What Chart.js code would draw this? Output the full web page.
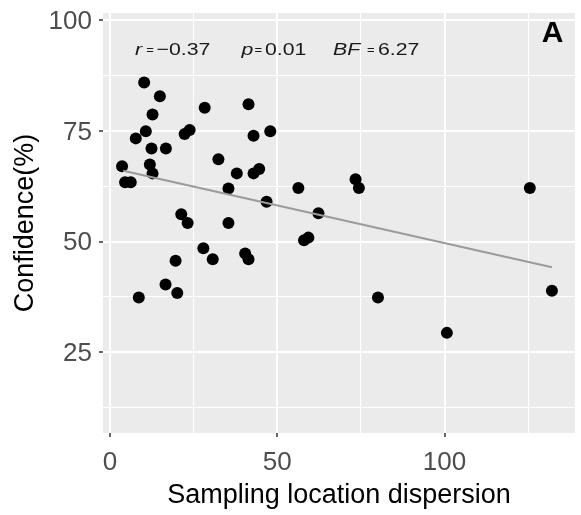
<!DOCTYPE html>
<html>
<head>
<meta charset="utf-8">
<script src="https://cdn.jsdelivr.net/npm/chart.js@4/dist/chart.umd.min.js"></script>
<style>
  html, body { margin: 0; padding: 0; background: #ffffff; }
  #wrap { width: 581px; height: 515px; position: relative; }
</style>
</head>
<body>
<div id="wrap"><canvas id="c" width="581" height="515"></canvas></div>
<script>
// ---- data ----
const dispersion = [10.2, 14.9, 12.7, 28.3, 41.4, 10.7, 7.7, 12.4, 16.7, 22.3, 23.8, 42.9, 47.9,
  3.6, 11.9, 12.7, 4.5, 6.2, 32.4, 37.9, 42.9, 44.6, 35.4, 56.3, 46.8, 21.3, 23.2, 35.4,
  27.9, 30.7, 40.4, 41.4, 19.6, 16.6, 20.1, 8.6, 73.4, 74.4, 62.3, 58.0, 59.3, 80.1,
  100.7, 125.5, 132.1];
const confidence = [85.9, 82.8, 78.7, 80.2, 81.0, 74.9, 73.3, 71.0, 71.0, 74.3, 75.2, 73.9, 74.9,
  67.0, 67.4, 65.4, 63.4, 63.4, 68.6, 65.4, 65.4, 66.4, 62.0, 62.1, 59.0, 56.2, 54.2, 54.2,
  48.5, 46.0, 47.3, 46.0, 45.7, 40.3, 38.4, 37.4, 64.1, 62.1, 56.4, 50.3, 50.9, 37.4,
  29.4, 62.1, 38.9];
const fitX = [3.96, 132.1];
const fitY = [66.0, 44.2];
const xTicks = [0, 25, 50, 75, 100, 125];
const xMajor = [0, 50, 100];
const yTicks = [12.5, 25, 37.5, 50, 62.5, 75, 87.5, 100];
const yMajor = [25, 50, 75, 100];
const statParts = [
  { text: 'r', kind: 'italic' },
  { text: '=', kind: 'eq' },
  { text: '\u22120.37', kind: 'plain' },
  { text: 'p', kind: 'italic' },
  { text: '=', kind: 'eq' },
  { text: '0.01', kind: 'plain' },
  { text: 'BF', kind: 'italic' },
  { text: '=', kind: 'eq' },
  { text: '6.27', kind: 'plain' }
];
const panelLabel = 'A';
const xTitle = 'Sampling location dispersion';
const yTitle = 'Confidence(%)';

// ---- layout (not data) ----
const statX = [135, 150, 156.5, 241.5, 258.3, 265, 333, 370.8, 378];
const FONT = '"Liberation Sans", Arial, Helvetica, sans-serif';

const points = dispersion.map((x, i) => ({ x: x, y: confidence[i] }));
const fitLine = fitX.map((x, i) => ({ x: x, y: fitY[i] }));

const panelPlugin = {
  id: 'panel',
  beforeDraw(chart) {
    const { ctx, chartArea: a } = chart;
    ctx.save();
    ctx.fillStyle = '#EBEBEB';
    ctx.fillRect(a.left, a.top, a.right - a.left, a.bottom - a.top);
    ctx.restore();
  },
  afterDraw(chart) {
    const ctx = chart.ctx;
    ctx.save();
    ctx.fillStyle = '#1a1a1a';
    ctx.textBaseline = 'alphabetic';
    const sx = 1.25;
    statParts.forEach((p, i) => {
      ctx.save();
      ctx.translate(statX[i], 55);
      if (p.kind === 'eq') {
        ctx.textAlign = 'center';
        ctx.font = '13px ' + FONT;
        ctx.fillText(p.text, 0, -1);
      } else {
        ctx.textAlign = 'left';
        ctx.scale(sx, 1);
        ctx.font = (p.kind === 'italic' ? 'italic ' : '') + '17px ' + FONT;
        ctx.fillText(p.text, 0, 0);
      }
      ctx.restore();
    });
    ctx.font = 'bold 30px ' + FONT;
    ctx.textAlign = 'center';
    ctx.fillStyle = '#000';
    ctx.fillText(panelLabel, 552.5, 41.5);
    ctx.restore();
  }
};

new Chart(document.getElementById('c'), {
  type: 'scatter',
  data: {
    datasets: [
      {
        type: 'line',
        data: fitLine,
        borderColor: '#9b9b9b',
        borderWidth: 2,
        pointRadius: 0,
        fill: false,
        order: 0
      },
      {
        type: 'scatter',
        data: points,
        backgroundColor: '#000000',
        borderWidth: 0,
        pointRadius: 6,
        order: 1
      }
    ]
  },
  options: {
    responsive: false,
    devicePixelRatio: 1,
    animation: false,
    layout: { padding: { left: 0, top: 13, right: 4, bottom: 0 } },
    plugins: { legend: { display: false }, tooltip: { enabled: false } },
    scales: {
      x: {
        type: 'linear',
        min: -2.1,
        max: 139,
        afterBuildTicks: (s) => { s.ticks = xTicks.map(v => ({ value: v })); },
        afterFit: (s) => { s.height = 82; s.paddingLeft = 0; s.paddingRight = 0; },
        border: { display: false },
        grid: {
          color: '#ffffff',
          lineWidth: (c) => xMajor.includes(c.tick && c.tick.value) ? 2 : 1,
          tickColor: (c) => xMajor.includes(c.tick && c.tick.value) ? '#333333' : 'rgba(0,0,0,0)',
          tickLength: 4,
          tickWidth: 1.5
        },
        ticks: {
          autoSkip: false,
          maxRotation: 0,
          padding: 10.5,
          color: '#4d4d4d',
          font: { family: FONT, size: 26 },
          callback: (v) => xMajor.includes(v) ? String(v) : ''
        },
        title: {
          display: true,
          text: xTitle,
          color: '#000000',
          font: { family: FONT, size: 27, lineHeight: 1.0 },
          padding: { top: 0, bottom: 6.3 }
        }
      },
      y: {
        type: 'linear',
        min: 6.8,
        max: 101.6,
        afterBuildTicks: (s) => { s.ticks = yTicks.map(v => ({ value: v })); },
        afterFit: (s) => { s.width = 103; s.paddingTop = 0; s.paddingBottom = 0; },
        border: { display: false },
        grid: {
          color: '#ffffff',
          lineWidth: (c) => yMajor.includes(c.tick && c.tick.value) ? 2 : 1,
          tickColor: (c) => yMajor.includes(c.tick && c.tick.value) ? '#333333' : 'rgba(0,0,0,0)',
          tickLength: 4,
          tickWidth: 1.5
        },
        ticks: {
          autoSkip: false,
          padding: 7,
          labelOffset: 1.5,
          color: '#4d4d4d',
          font: { family: FONT, size: 26 },
          callback: (v) => yMajor.includes(v) ? String(v) : ''
        },
        title: {
          display: true,
          text: yTitle,
          color: '#000000',
          font: { family: FONT, size: 27, lineHeight: 1.0 },
          padding: { top: 12.5, bottom: 0 }
        }
      }
    }
  },
  plugins: [panelPlugin]
});
</script>
</body>
</html>
